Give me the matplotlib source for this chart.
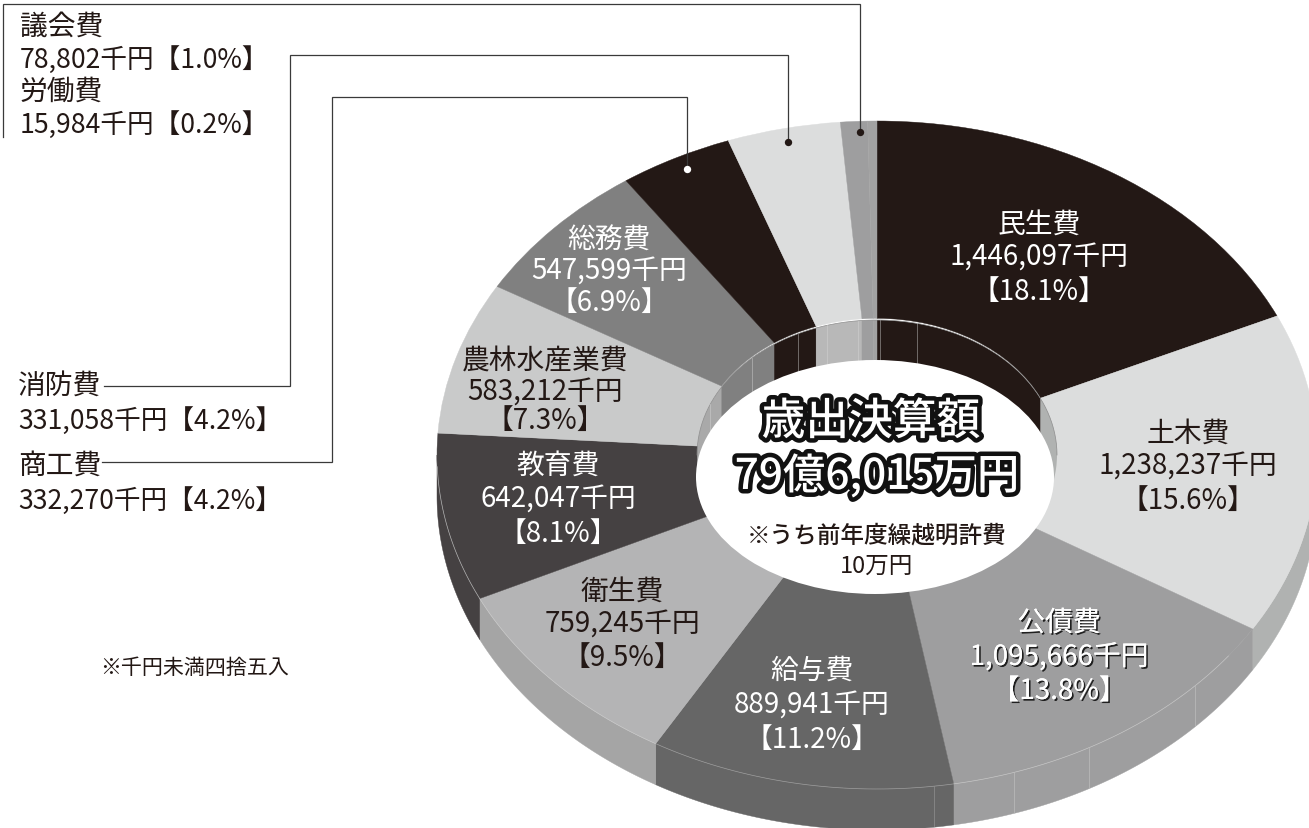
import numpy as np
import matplotlib
matplotlib.use('Agg')
import matplotlib.pyplot as plt
from matplotlib.patches import Wedge, Polygon, Ellipse
from matplotlib.transforms import Affine2D
import matplotlib.patheffects as pe

plt.rcParams['font.family'] = ['Noto Sans CJK JP', 'DejaVu Sans']

categories = ['民生費', '土木費', '公債費', '給与費', '衛生費', '教育費',
              '農林水産業費', '総務費', '商工費', '消防費', '議会費', '労働費']
values = [1446097, 1238237, 1095666, 889941, 759245, 642047,
          583212, 547599, 332270, 331058, 78802, 15984]
percents = ['18.1', '15.6', '13.8', '11.2', '9.5', '8.1',
            '7.3', '6.9', '4.2', '4.2', '1.0', '0.2']
face_colors = ['#231815', '#dcdddd', '#9e9e9f', '#666666', '#b4b4b5', '#454142',
               '#c9caca', '#808080', '#231815', '#dcdddd', '#9e9e9f', '#a2a2a2']
wall_colors = ['#231815', '#b0b2b1', '#9e9e9f', '#666666', '#a5a5a5', '#454142',
               '#a9a9a9', '#808080', '#231815', '#b8b8b8', '#9e9e9f', '#a2a2a2']
text_colors = ['white', '#231815', 'white', 'white', '#231815', 'white',
               '#231815', 'white']
label_x = [1039, 1188, 1059, 812, 622, 558, 545, 609]
label_y = [[225, 258, 292], [434, 467, 501], [624, 658, 692], [671, 706, 740],
           [592, 625, 658], [466, 500, 534], [361, 393, 421], [241, 272, 303]]
shadowed = [False, False, True, False, False, False, False, False]

W, H = 1309, 829
fig = plt.figure(figsize=(W / 100, H / 100), dpi=100, facecolor='white')
ax = fig.add_axes([0, 0, 1, 1])
ax.set_xlim(0, W)
ax.set_ylim(H, 0)
ax.axis('off')

CX, CY, A, B = 877, 456, 440, 334
RA, RB = 180, 135
DEPTH = 41

share = np.array(values) / sum(values)
edges = 90 - 360 * np.concatenate([[0], np.cumsum(share)])
# the drawn pie is very slightly skewed past the second slice
edges = edges + np.interp(edges, [-270, -235, -155, -81, -31, 90], [0.5, 0.5, 1, 1, 0, 0])
edges[-1] = -270


def arc(t1, t2, a, b, dy=0, n=80):
    t = np.radians(np.linspace(t1, t2, n))
    return np.column_stack([CX + a * np.cos(t), CY + dy - b * np.sin(t)])


# outer side wall (visible lower half)
for i in range(len(values)):
    t2, t1 = edges[i], edges[i + 1]
    lo, hi = max(t1, -180), min(t2, 0)
    if lo < hi:
        pts = np.vstack([arc(lo, hi, A, B), arc(hi, lo, A, B, DEPTH)])
        ax.add_patch(Polygon(pts, closed=True, fc=wall_colors[i], ec=wall_colors[i], lw=0.3, zorder=1))

# top faces
tr = Affine2D().scale(A, -B).translate(CX, CY) + ax.transData
for i in range(len(values)):
    ax.add_patch(Wedge((0, 0), 1, edges[i + 1], edges[i], width=1 - RA / A,
                       fc=face_colors[i], ec=face_colors[i], lw=0.3, transform=tr, zorder=2))

# thin rim and tick lines on the wall
for t1, t2, col in [(-37, edges[3], '#c4c4c4'), (edges[3], edges[4], '#9a9a9a'),
                    (edges[4], edges[5], '#c8c8c8'), (edges[5], -178, '#b0b0b0')]:
    rim = arc(t1, t2, A, B)
    ax.plot(rim[:, 0], rim[:, 1], color=col, lw=0.5, zorder=3)
for deg, col in [(-43.7, '#bdbdbd'), (-61.2, '#bdbdbd'), (-71.9, '#bdbdbd'), (-82.6, '#909090')]:
    t = np.radians(deg)
    x, y = CX + A * np.cos(t), CY - B * np.sin(t)
    ax.plot([x, x], [y, y + DEPTH - 1], color=col, lw=0.5, zorder=3)

# inner wall of the hole
rim_clip = Ellipse((CX, CY), 2 * RA, 2 * RB, fc='none', ec='none', zorder=3)
ax.add_patch(rim_clip)
for i in range(len(values)):
    t2, t1 = edges[i], edges[i + 1]
    for lo_lim, hi_lim in [(0, 90), (-270, -180)]:
        lo, hi = max(t1, lo_lim), min(t2, hi_lim)
        if lo < hi:
            pts = np.vstack([arc(lo, hi, RA, RB), arc(hi, lo, RA, RB, 50)])
            p = Polygon(pts, closed=True, fc=wall_colors[i], ec=wall_colors[i], lw=0.3, zorder=4)
            ax.add_patch(p)
            p.set_clip_path(rim_clip)
rim = arc(0, 180, RA, RB)
ax.plot(rim[:, 0], rim[:, 1], color='#8a8a8a', lw=0.5, zorder=5)
for deg in (77, 89, 96, 106, 116, 134, 158):
    t = np.radians(deg)
    x, y = CX + RA * np.cos(t), CY - RB * np.sin(t)
    ax.plot([x, x], [y, y + 44], color='#d8d8d8', lw=0.5, alpha=0.6, zorder=5)

# white centre
ax.add_patch(Ellipse((875, 478), 358, 234, fc='white', ec='none', zorder=6))

# leader lines
leaders_x = [[860, 860, 3, 3], [788, 788, 290, 290, 104], [687, 687, 332, 332, 102]]
leaders_y = [[133, 5, 5, 138], [143, 56, 56, 387, 387], [170, 98, 98, 463, 463]]
for lx, ly in zip(leaders_x, leaders_y):
    ax.plot(lx, ly, color='#3a3a3a', lw=0.9, solid_joinstyle='miter', zorder=7)
ax.scatter([860, 788], [133, 143], s=28, color='#231815', zorder=8, linewidths=0)
ax.scatter([687], [170], s=28, color='white', zorder=8, linewidths=0)

FS = 20
dark = '#231815'
# slice labels
for i in range(8):
    lines = [categories[i], f'{values[i]:,}千円', f'【{percents[i]}%】']
    for s, y in zip(lines, label_y[i]):
        t = ax.text(label_x[i], y, s, color=text_colors[i], fontsize=FS, ha='center',
                    va='center', zorder=9)
        if shadowed[i]:
            t.set_path_effects([pe.withSimplePatchShadow(offset=(1.2, -1.2), shadow_rgbFace='#111111', alpha=0.9),
                                pe.Normal()])

# outside labels
outside = [(20, 27, 10), (20, 60, 10), (20, 92, 11), (20, 125, 11),
           (18, 386, 9), (18, 421, 9), (18, 466, 8), (18, 501, 8)]
for n, (x, y, i) in enumerate(outside):
    if n % 2 == 0:
        ax.text(x, y, categories[i], color=dark, fontsize=FS, ha='left', va='center', zorder=9)
    else:
        ax.text(x, y, f'{values[i]:,}千円【{percents[i]}%】', color=dark, fontsize=FS * 0.96,
                ha='left', va='center', zorder=9)

ax.text(100, 668, '※千円未満四捨五入', color=dark, fontsize=15.1, ha='left', va='center', zorder=9)

# centre text
stroke = [pe.withStroke(linewidth=6.5, foreground='#111111')]
ax.text(871, 423, '歳出決算額', color='white', fontsize=31.5, fontweight='medium', ha='center', va='center',
        path_effects=stroke, zorder=10)
ax.text(877, 477, '79億6,015万円', color='white', fontsize=30.5, fontweight='medium', ha='center', va='center',
        path_effects=stroke, zorder=10)
ax.text(877, 536, '※うち前年度繰越明許費', color=dark, fontsize=17, fontweight='medium', ha='center',
        va='center', zorder=10)
ax.text(877, 566, '10万円', color=dark, fontsize=17, ha='center', va='center', zorder=10)

fig.savefig('out.png', dpi=100, facecolor='white')
